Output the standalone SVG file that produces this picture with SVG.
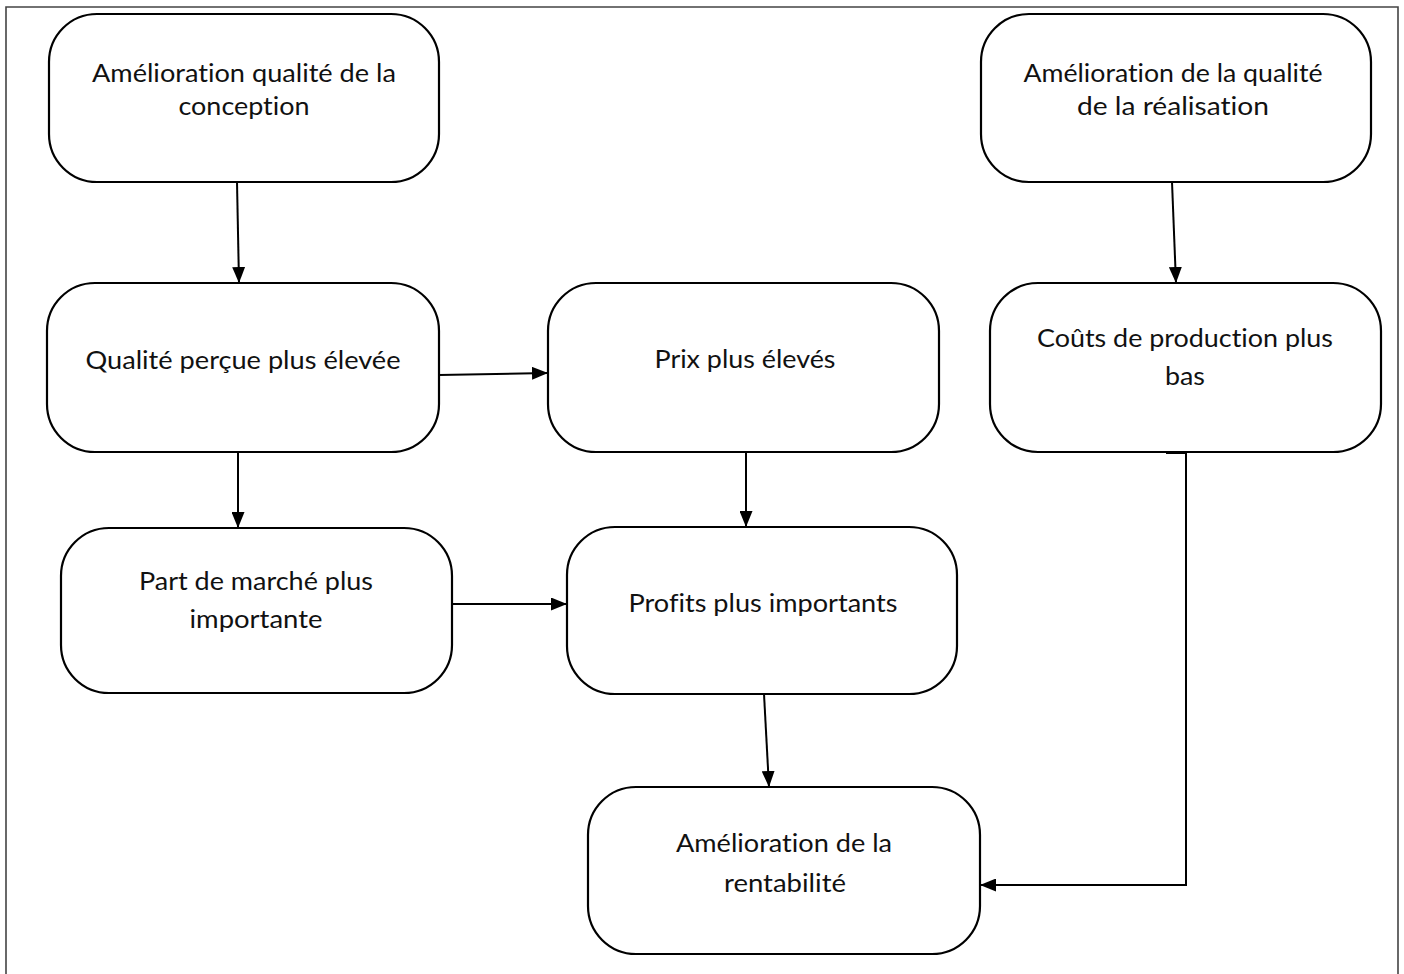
<svg xmlns="http://www.w3.org/2000/svg" width="1404" height="974" viewBox="0 0 1404 974">
  <defs>
    <marker id="arrow" viewBox="0 0 16 13" refX="16" refY="6.5" markerWidth="16" markerHeight="13" markerUnits="userSpaceOnUse" orient="auto">
      <path d="M0,0 L16,6.5 L0,13 Z" fill="#000"/>
    </marker>
    <style>
      .box { fill: #fff; stroke: #000; stroke-width: 2.2; }
      .lbl { font-family: Lato, "Open Sans", "Liberation Sans", sans-serif; font-size: 25px; fill: #111; text-anchor: middle; font-variant-ligatures: none; }
      .edge { fill: none; stroke: #000; stroke-width: 2; marker-end: url(#arrow); }
    </style>
  </defs>

  <rect width="1404" height="974" fill="#fff"/>
  <!-- page frame -->
  <path d="M6,990 L6,7 L1398,7 L1398,990" fill="none" stroke="#444" stroke-width="1.6"/>

  <g id="conception">
    <rect class="box" x="49" y="14" width="390" height="168" rx="48" ry="48"/>
    <text class="lbl" x="244" y="82" textLength="304" lengthAdjust="spacingAndGlyphs">Amélioration qualité de la</text>
    <text class="lbl" x="244" y="115" textLength="131" lengthAdjust="spacingAndGlyphs">conception</text>
  </g>

  <g id="realisation">
    <rect class="box" x="981" y="14" width="390" height="168" rx="48" ry="48"/>
    <text class="lbl" x="1173" y="82" textLength="299" lengthAdjust="spacingAndGlyphs">Amélioration de la qualité</text>
    <text class="lbl" x="1173" y="115" textLength="192" lengthAdjust="spacingAndGlyphs">de la réalisation</text>
  </g>

  <g id="qualite-percue">
    <rect class="box" x="47" y="283" width="392" height="169" rx="48" ry="48"/>
    <text class="lbl" x="243" y="369" textLength="315" lengthAdjust="spacingAndGlyphs">Qualité perçue plus élevée</text>
  </g>

  <g id="prix">
    <rect class="box" x="548" y="283" width="391" height="169" rx="48" ry="48"/>
    <text class="lbl" x="745" y="368" textLength="181" lengthAdjust="spacingAndGlyphs">Prix plus élevés</text>
  </g>

  <g id="couts">
    <rect class="box" x="990" y="283" width="391" height="169" rx="48" ry="48"/>
    <text class="lbl" x="1185" y="347" textLength="296" lengthAdjust="spacingAndGlyphs">Coûts de production plus</text>
    <text class="lbl" x="1185" y="385" textLength="40" lengthAdjust="spacingAndGlyphs">bas</text>
  </g>

  <g id="part-marche">
    <rect class="box" x="61" y="528" width="391" height="165" rx="48" ry="48"/>
    <text class="lbl" x="256" y="590" textLength="234" lengthAdjust="spacingAndGlyphs">Part de marché plus</text>
    <text class="lbl" x="256" y="628" textLength="133" lengthAdjust="spacingAndGlyphs">importante</text>
  </g>

  <g id="profits">
    <rect class="box" x="567" y="527" width="390" height="167" rx="48" ry="48"/>
    <text class="lbl" x="763" y="612" textLength="269" lengthAdjust="spacingAndGlyphs">Profits plus importants</text>
  </g>

  <g id="rentabilite">
    <rect class="box" x="588" y="787" width="392" height="167" rx="48" ry="48"/>
    <text class="lbl" x="784" y="852" textLength="216" lengthAdjust="spacingAndGlyphs">Amélioration de la</text>
    <text class="lbl" x="785" y="892" textLength="122" lengthAdjust="spacingAndGlyphs">rentabilité</text>
  </g>

  <g id="connectors">
    <line class="edge" x1="237" y1="182" x2="239" y2="283"/>
    <line class="edge" x1="1172" y1="182" x2="1176" y2="283"/>
    <line class="edge" x1="439" y1="375" x2="548" y2="373"/>
    <line class="edge" x1="238" y1="452" x2="238" y2="528"/>
    <line class="edge" x1="746" y1="452" x2="746" y2="527"/>
    <line class="edge" x1="452" y1="604" x2="567" y2="604"/>
    <line class="edge" x1="764" y1="694" x2="769" y2="787"/>
    <polyline class="edge" points="1166,453 1186,453 1186,885 980,885"/>
  </g>
</svg>
